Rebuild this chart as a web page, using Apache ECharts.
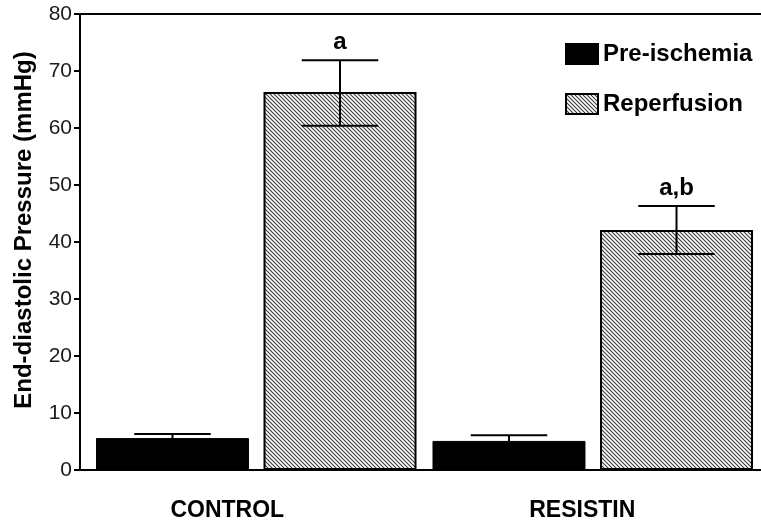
<!DOCTYPE html>
<html>
<head>
<meta charset="utf-8">
<script src="https://cdn.jsdelivr.net/npm/echarts@6/dist/echarts.min.js"></script>
<style>
html,body{margin:0;padding:0;background:#fff;}
#chart{width:761px;height:525px;}
</style>
</head>
<body>
<div id="chart"></div>
<script>
// ---- data ----
const categories = ['CONTROL', 'RESISTIN'];
const seriesNames = ['Pre-ischemia', 'Reperfusion'];
const preMean  = [5.6, 5.1];
const preUpper = [6.3, 6.1];
const preLower = [4.9, 4.1];
const repMean  = [66.3, 42.1];
const repUpper = [71.9, 46.3];
const repLower = [60.4, 37.9];
const preAnnot = ['', ''];
const repAnnot = ['a', 'a,b'];
const yMin = 0, yMax = 80, yStep = 10;

// ---- styling ----
const FONT = "'Liberation Sans', Arial, sans-serif";
const CAT_GAP = 0.0475;   // fraction of category left empty
const BAR_GAP = 0.095;    // gap between bars as fraction of bar width

function hatchPattern() {
  const s = 4;
  const c = document.createElement('canvas');
  c.width = s; c.height = s;
  const g = c.getContext('2d');
  g.fillStyle = '#ffffff';
  g.fillRect(0, 0, s, s);
  g.strokeStyle = '#3a3a3a';
  g.lineWidth = 1.1;
  g.beginPath();
  g.moveTo(-1, -1); g.lineTo(s + 1, s + 1);
  g.moveTo(-1, s - 1); g.lineTo(1, s + 1);
  g.moveTo(s - 1, -1); g.lineTo(s + 1, 1);
  g.stroke();
  return { image: c, repeat: 'repeat' };
}

const errData = [];
[[preMean, preUpper, preLower], [repMean, repUpper, repLower]].forEach(function (arr, s) {
  categories.forEach(function (c, i) {
    errData.push([i, arr[0][i], arr[1][i], arr[2][i], s]);
  });
});
const annots = [preAnnot, repAnnot];

function renderErr(params, api) {
  const cat = api.value(0), hi = api.value(2), lo = api.value(3), s = api.value(4);
  const catW = api.size([1, 0])[0];
  const groupW = catW * (1 - CAT_GAP);
  const barW = groupW / (2 + BAR_GAP);
  const off = (s === 0 ? -1 : 1) * (barW + barW * BAR_GAP) / 2;
  const pHi = api.coord([cat, hi]);
  const pLo = api.coord([cat, lo]);
  const x = pHi[0] + off;
  const half = barW / 4;
  const st = { stroke: '#000', lineWidth: 2 };
  const children = [
    { type: 'line', shape: { x1: x, y1: pHi[1], x2: x, y2: pLo[1] }, style: st },
    { type: 'line', shape: { x1: x - half, y1: pHi[1], x2: x + half, y2: pHi[1] }, style: st },
    { type: 'line', shape: { x1: x - half, y1: pLo[1], x2: x + half, y2: pLo[1] }, style: st }
  ];
  const t = annots[s][cat];
  if (t) {
    children.push({
      type: 'text',
      style: { text: t, x: x, y: pHi[1] - 6, align: 'center', verticalAlign: 'bottom',
               font: 'bold 24px ' + FONT, fill: '#000' }
    });
  }
  return { type: 'group', children: children };
}

const chart = echarts.init(document.getElementById('chart'), null, { renderer: 'canvas' });
chart.setOption({
  animation: false,
  backgroundColor: '#fff',
  textStyle: { fontFamily: FONT },
  grid: [
    { left: 88, right: 0, top: 14, bottom: 55 },
    { left: 80, right: 0, top: 14, bottom: 55 }
  ],
  legend: {
    data: seriesNames,
    orient: 'vertical',
    left: 560, top: 37,
    itemWidth: 32, itemHeight: 20, itemGap: 26,
    icon: 'rect',
    textStyle: { fontSize: 24, fontWeight: 'bold', color: '#000', fontFamily: FONT }
  },
  xAxis: [
    {
      type: 'category', gridIndex: 0, data: categories,
      axisLine: { show: false }, axisTick: { show: false },
      axisLabel: {
        margin: 29, color: '#000',
        formatter: function (v, i) { return '{c' + i + '|' + v + '}'; },
        rich: {
          c0: { fontSize: 23, fontWeight: 'bold', color: '#000', fontFamily: FONT, padding: [0, 58, 0, 0] },
          c1: { fontSize: 23, fontWeight: 'bold', color: '#000', fontFamily: FONT, padding: [0, 21, 0, 0] }
        }
      }
    },
    {
      type: 'value', gridIndex: 1, position: 'bottom', min: 0, max: 1,
      axisLine: { show: true, lineStyle: { color: '#000', width: 2 } },
      axisTick: { show: false }, axisLabel: { show: false }, splitLine: { show: false }
    },
    {
      type: 'value', gridIndex: 1, position: 'top', min: 0, max: 1,
      axisLine: { show: true, lineStyle: { color: '#000', width: 2 } },
      axisTick: { show: false }, axisLabel: { show: false }, splitLine: { show: false }
    }
  ],
  yAxis: [
    { type: 'value', gridIndex: 0, min: yMin, max: yMax, show: false },
    {
      type: 'value', gridIndex: 1, min: yMin, max: yMax, interval: yStep,
      name: 'End-diastolic Pressure (mmHg)',
      nameLocation: 'middle', nameRotate: 90, nameGap: 44,
      nameTextStyle: { fontSize: 24, fontWeight: 'bold', color: '#000', fontFamily: FONT,
                       padding: [0, 0, 0, 24] },
      axisLine: { show: true, lineStyle: { color: '#000', width: 2 } },
      axisTick: { show: true, length: 6, lineStyle: { color: '#000', width: 2 } },
      axisLabel: { margin: 8, fontSize: 21, color: '#1a1a1a', fontFamily: FONT },
      splitLine: { show: false }
    }
  ],
  series: [
    {
      name: seriesNames[0], type: 'bar', xAxisIndex: 0, yAxisIndex: 0,
      data: preMean,
      barCategoryGap: (CAT_GAP * 100) + '%', barGap: (BAR_GAP * 100) + '%',
      itemStyle: { color: '#000', borderColor: '#000', borderWidth: 1 }
    },
    {
      name: seriesNames[1], type: 'bar', xAxisIndex: 0, yAxisIndex: 0,
      data: repMean,
      barCategoryGap: (CAT_GAP * 100) + '%', barGap: (BAR_GAP * 100) + '%',
      itemStyle: { color: hatchPattern(), borderColor: '#000', borderWidth: 2 }
    },
    {
      type: 'custom', xAxisIndex: 0, yAxisIndex: 0, z: 5,
      renderItem: renderErr, data: errData, silent: true
    }
  ]
});
</script>
</body>
</html>
